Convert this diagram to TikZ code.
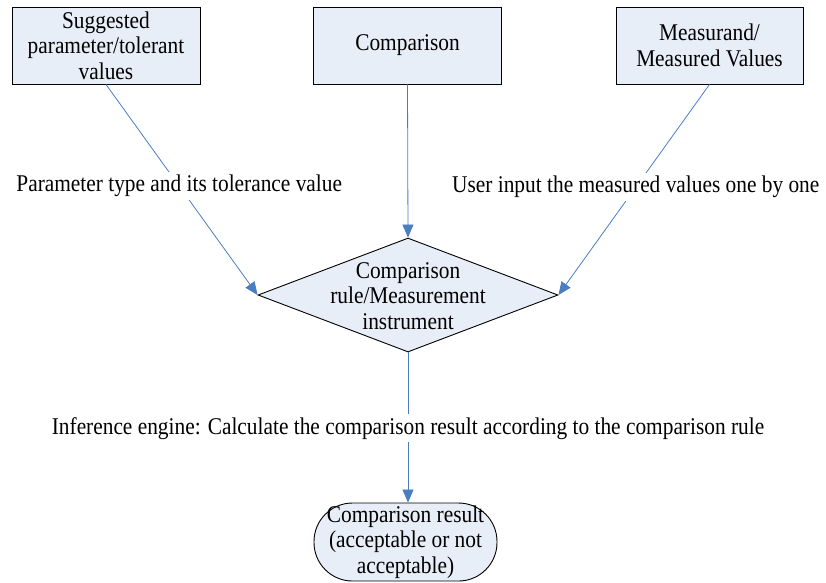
\documentclass[tikz,border=0pt]{standalone}
\usepackage{fontspec}
\setmainfont{Liberation Serif}[FakeStretch=0.89]
\usetikzlibrary{shapes.geometric,arrows.meta}
\definecolor{boxfill}{RGB}{232,238,247}
\definecolor{linkblue}{RGB}{74,126,193}
\begin{document}
\begin{tikzpicture}[x=1pt,y=-1pt,
  txt/.style={font=\fontsize{24}{25.5}\selectfont, align=center},
  inbox/.style={txt, rectangle, draw=black, line width=0.9pt, fill=boxfill,
    minimum width=188pt, minimum height=77pt, inner sep=0pt},
  decision/.style={diamond, draw=black, line width=0.9pt, fill=boxfill,
    minimum width=300pt, minimum height=114pt, inner sep=0pt},
  terminal/.style={txt, rectangle, rounded corners=38.5pt, draw=black, line width=0.9pt,
    fill=boxfill, minimum width=183pt, minimum height=78pt, inner sep=0pt},
  link/.style={draw=linkblue, line width=0.8pt,
    -{Triangle[length=13pt,width=11pt]}},
  lbl/.style={txt, fill=white, inner sep=3pt}]
\useasboundingbox (0,0) rectangle (826,582);
\node[inbox] (b1) at (106,45.5) {Suggested\\parameter/tolerant\\values};
\node[inbox] (b2) at (407.5,45.5) {Comparison};
\node[inbox, minimum width=187pt] (b3) at (709.5,45.5) {Measurand/\\Measured Values};
\node[decision] (dia) at (408,295) {};
\node[txt, inner sep=0pt] (diatext) at (408,296) {Comparison\\rule/Measurement\\instrument};
\node[terminal] (term) at (405.5,542) {Comparison result\\(acceptable or not\\acceptable)};
\draw[link] (b1.south) -- node[lbl, pos=0.483] (l1) {Parameter type and its tolerance value} (dia.west);
\draw[link] (b2.south) -- (dia.north);
\draw[link] (b3.south) -- node[lbl, pos=0.488] (l2) {User input the measured values one by one} (dia.east);
\draw[link] (dia.south) -- node[lbl, pos=0.506] (l3) {Inference engine: Calculate the comparison result according to the comparison rule} (dia.south |- term.north);
\end{tikzpicture}
\end{document}
